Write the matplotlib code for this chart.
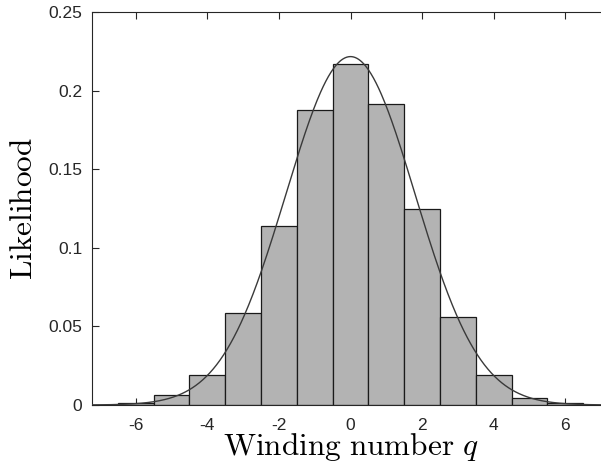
import numpy as np
import matplotlib
matplotlib.use('Agg')
import matplotlib.pyplot as plt

plt.rcParams['mathtext.fontset'] = 'cm'
plt.rcParams['font.family'] = ['Liberation Sans', 'DejaVu Sans']
plt.rcParams['axes.unicode_minus'] = False

# Histogram of winding numbers
q_values = [-7, -6, -5, -4, -3, -2, -1, 0, 1, 2, 3, 4, 5, 6, 7]
likelihood = [0.0003, 0.0015, 0.0062, 0.019, 0.0586, 0.1141, 0.1877, 0.2170,
              0.1916, 0.1249, 0.0561, 0.019, 0.0044, 0.0015, 0.0003]

# Gaussian fit parameters
fit_mu = 0.0
fit_sigma = 1.80

x_ticks = [-6, -4, -2, 0, 2, 4, 6]
y_ticks = [0, 0.05, 0.1, 0.15, 0.2, 0.25]
y_ticklabels = ['0', '0.05', '0.1', '0.15', '0.2', '0.25']

fig = plt.figure(figsize=(6.01, 4.69), dpi=100)
# right edge sits just past the image border, as in the original
ax = fig.add_axes([92 / 601, 1 - 405 / 469, (609 - 92) / 601, (405 - 12) / 469])

ax.bar(q_values, likelihood, width=1.0, color='#b3b3b3', edgecolor='#1a1a1a',
       linewidth=0.9, zorder=2)

xs = np.linspace(-7.25, 7.25, 600)
gauss = np.exp(-0.5 * ((xs - fit_mu) / fit_sigma) ** 2) / (fit_sigma * np.sqrt(2 * np.pi))
ax.plot(xs, gauss, color='#3a3a3a', linewidth=1.0, zorder=3)

ax.set_xlim(-7.22, 7.22)
ax.set_ylim(0, 0.25)
ax.set_xticks(x_ticks)
ax.set_yticks(y_ticks)
ax.set_yticklabels(y_ticklabels)
ax.tick_params(direction='in', top=True, right=True, length=5, width=0.8,
               labelsize=12.5, colors='#262626')
ax.tick_params(axis='x', pad=9)
ax.tick_params(axis='y', pad=7)
for s in ax.spines.values():
    s.set_color('#262626')
    s.set_linewidth(0.8)

ax.set_xlabel(r'$\mathrm{Winding\ number}\ q$', fontsize=22.5, labelpad=-1)
ax.set_ylabel(r'$\mathrm{Likelihood}$', fontsize=22.5, labelpad=7)

fig.savefig('out.png', dpi=100)
